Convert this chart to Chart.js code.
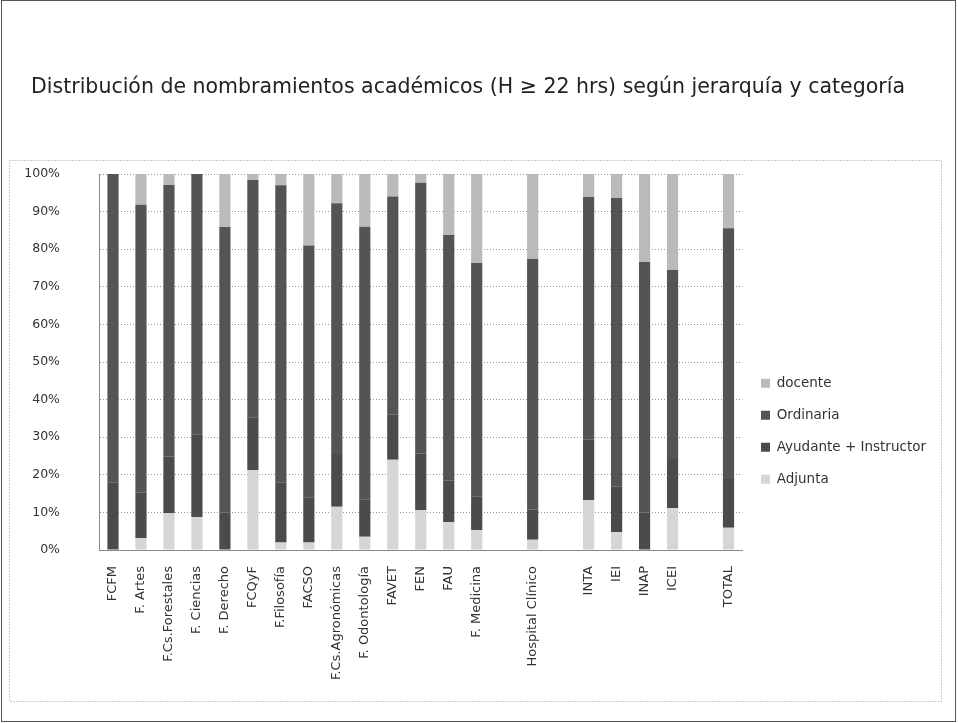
<!DOCTYPE html>
<html>
<head>
<meta charset="utf-8">
<script src="https://cdn.jsdelivr.net/npm/chart.js@4.4.1/dist/chart.umd.min.js"></script>
<style>
  html, body { margin: 0; padding: 0; background: #ffffff; }
  #wrap { position: absolute; left: 0; top: 0; width: 958px; height: 723px; }
</style>
</head>
<body>
<div id="wrap"><canvas id="c" width="958" height="723"></canvas></div>
<script>
// Categories (empty strings are blank gap slots in the original chart)
const categories = [
  "FCFM", "F. Artes", "F.Cs.Forestales", "F. Ciencias", "F. Derecho", "FCQyF",
  "F.Filosofía", "FACSO", "F.Cs.Agronómicas", "F. Odontología", "FAVET", "FEN",
  "FAU", "F. Medicina", "", "Hospital Clínico", "", "INTA", "IEI", "INAP", "ICEI", "", "TOTAL"
];

// Series values (percent of each bar)
const adjunta = [0, 3.2, 9.8, 8.8, 0, 21.3, 2, 2, 11.5, 3.5, 24, 10.6, 7.4, 5.3, null, 2.7, null, 13.3, 4.8, 0, 11.2, null, 5.9];
const ayudanteInstructor = [18, 12, 15, 22, 10, 14, 16, 12, 14, 10, 12, 15, 11, 9, null, 8, null, 16, 12, 10, 13, null, 13];
const ordinaria = [82, 76.6, 72.3, 69.2, 75.9, 63.1, 79, 67, 66.7, 72.5, 58, 72.1, 65.4, 62, null, 66.7, null, 64.6, 76.8, 66.6, 50.3, null, 66.7];
const docente = [0, 8.2, 2.9, 0, 14.1, 1.6, 3, 19, 7.8, 14, 6, 2.3, 16.2, 23.7, null, 22.6, null, 6.1, 6.4, 23.4, 25.5, null, 14.4];

const yTicks = [0, 10, 20, 30, 40, 50, 60, 70, 80, 90, 100];

const titleText = "Distribución de nombramientos académicos (H ≥ 22 hrs) según jerarquía y categoría";

const frame = {
  id: 'frame',
  beforeDraw(chart) {
    const ctx = chart.ctx;
    ctx.save();
    ctx.strokeStyle = '#555';
    ctx.lineWidth = 1;
    ctx.strokeRect(1.5, 0.5, 954, 721);
    ctx.strokeStyle = '#999';
    ctx.setLineDash([1, 2]);
    ctx.strokeRect(9.5, 160.5, 932, 541);
    ctx.restore();
  }
};

new Chart(document.getElementById('c'), {
  type: 'bar',
  data: {
    labels: categories,
    datasets: [
      { label: 'Adjunta', data: adjunta, backgroundColor: '#d6d6d6' },
      { label: 'Ayudante + Instructor', data: ayudanteInstructor, backgroundColor: '#4b4b4b' },
      { label: 'Ordinaria', data: ordinaria, backgroundColor: '#545454' },
      { label: 'docente', data: docente, backgroundColor: '#bababa' }
    ]
  },
  options: {
    responsive: false,
    animation: false,
    devicePixelRatio: 1,
    layout: { padding: { left: 0, right: 22, top: 0, bottom: 0 } },
    datasets: { bar: { categoryPercentage: 1.0, barPercentage: 0.4 } },
    plugins: {
      title: {
        display: true,
        text: titleText,
        color: '#222',
        font: { family: 'DejaVu Sans', size: 20.5, weight: 'normal' },
        padding: { top: 75, bottom: 74.4 }
      },
      legend: {
        position: 'right',
        reverse: true,
        title: {
          display: true,
          text: ' ',
          font: { size: 12 },
          padding: { top: 63, bottom: 62 }
        },
        labels: {
          color: '#333',
          font: { family: 'DejaVu Sans', size: 13.5 },
          boxWidth: 9,
          boxHeight: 9,
          padding: 18.5
        }
      },
      tooltip: { enabled: false }
    },
    scales: {
      x: {
        stacked: true,
        grid: { display: false },
        border: { display: true, color: '#888', dash: [1, 2] },
        ticks: {
          color: '#333',
          font: { family: 'DejaVu Sans', size: 13 },
          minRotation: 90,
          maxRotation: 90,
          autoSkip: false,
          padding: 8
        },
        afterFit(s) { s.height = 173; }
      },
      y: {
        stacked: true,
        min: 0,
        max: 100,
        afterBuildTicks(s) { s.ticks = yTicks.map(v => ({ value: v })); },
        grid: { color: '#999', drawTicks: false, lineWidth: 1 },
        border: { display: true, color: '#888', dash: [1, 2] },
        ticks: {
          color: '#333',
          font: { family: 'DejaVu Sans', size: 12.5 },
          padding: 39,
          callback: v => v + '%'
        },
        afterFit(s) { s.width = 99; }
      }
    }
  },
  plugins: [frame]
});
</script>
</body>
</html>
